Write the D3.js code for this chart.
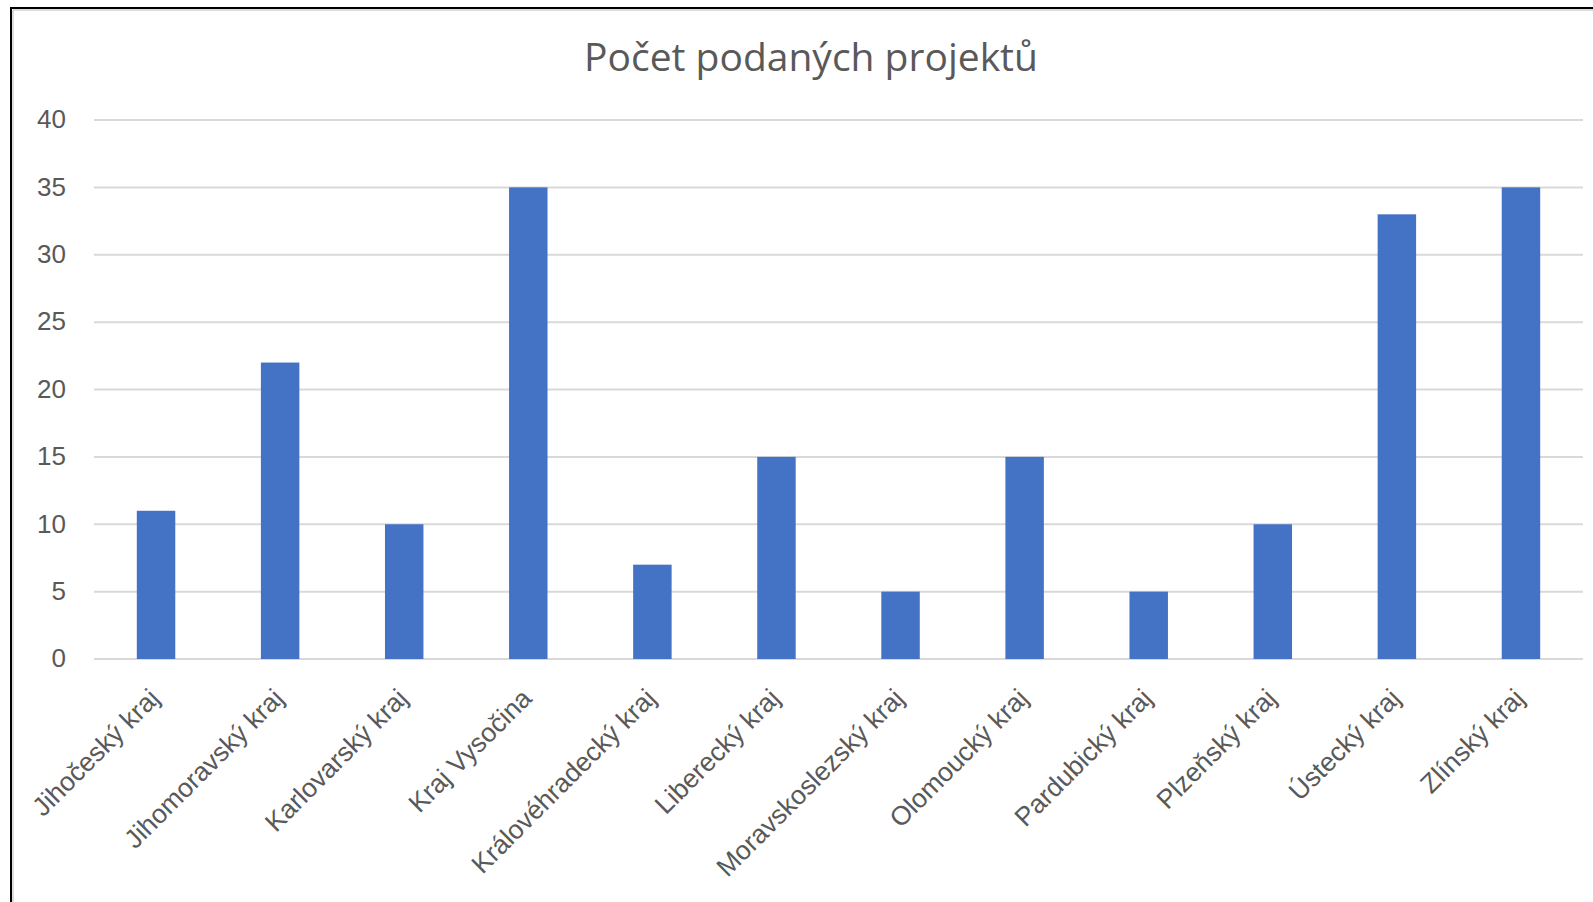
<!DOCTYPE html>
<html>
<head>
<meta charset="utf-8">
<script src="https://cdn.jsdelivr.net/npm/d3@7"></script>
<style>
  body { margin: 0; background: #fff; }
  svg { display: block; }
</style>
</head>
<body>
<svg id="chart"></svg>
<script>
const regions = [
  "Jihočeský kraj", "Jihomoravský kraj", "Karlovarský kraj", "Kraj Vysočina",
  "Královéhradecký kraj", "Liberecký kraj", "Moravskoslezský kraj", "Olomoucký kraj",
  "Pardubický kraj", "Plzeňský kraj", "Ústecký kraj", "Zlínský kraj"
];
const projects = [11, 22, 10, 35, 7, 15, 5, 15, 5, 10, 33, 35];
const yTicks = [0, 5, 10, 15, 20, 25, 30, 35, 40];
const chartTitle = "Počet podaných projektů";

const w = 1593;
const h = 902;
const m = { top: 120, right: 10, bottom: 243, left: 94 };

const svg = d3.select("#chart").attr("width", w).attr("height", h);

// frame of the chart (cropped on right and bottom)
svg.append("path")
  .attr("d", `M11,${h + 5}V8H${w + 5}`)
  .attr("fill", "none")
  .attr("stroke", "#000")
  .attr("stroke-width", 2);
svg.append("path")
  .attr("d", `M13,${h + 5}V10H${w + 5}`)
  .attr("fill", "none")
  .attr("stroke", "#bbb")
  .attr("stroke-width", 1);

const x = d3.scaleBand()
  .domain(regions)
  .range([m.left, w - m.right])
  .paddingInner(0.69)
  .paddingOuter(0.345);

const y = d3.scaleLinear()
  .domain([0, 40])
  .range([h - m.bottom, m.top]);

// gridlines
svg.append("g")
  .selectAll("line")
  .data(yTicks)
  .enter()
  .append("line")
  .attr("x1", m.left)
  .attr("x2", w - m.right)
  .attr("y1", (d) => y(d))
  .attr("y2", (d) => y(d))
  .attr("stroke", "#d9d9d9")
  .attr("stroke-width", 2);

// y axis labels
const yAxis = svg.append("g")
  .attr("transform", `translate(${m.left - 28},0)`)
  .call(d3.axisLeft(y).tickValues(yTicks).tickSize(0).tickPadding(0));
yAxis.select(".domain").remove();
yAxis.selectAll("text")
  .attr("fill", "#595959")
  .attr("dy", "0.3em")
  .style("font-family", "'Liberation Sans', Arial, sans-serif")
  .style("font-size", "26px");

// bars
svg.append("g")
  .selectAll("rect")
  .data(projects)
  .enter()
  .append("rect")
  .attr("x", (d, i) => x(regions[i]))
  .attr("y", (d) => y(d))
  .attr("width", x.bandwidth())
  .attr("height", (d) => y(0) - y(d))
  .attr("fill", "#4472c4");

// x axis labels
const xAxis = svg.append("g")
  .attr("transform", `translate(0,${h - m.bottom})`)
  .call(d3.axisBottom(x).tickSize(0).tickPadding(0));
xAxis.select(".domain").remove();
xAxis.selectAll("text")
  .attr("fill", "#595959")
  .attr("text-anchor", "end")
  .attr("dy", null)
  .attr("y", 0)
  .attr("transform", "translate(5,41) rotate(-45)")
  .style("font-family", "'Liberation Sans', Arial, sans-serif")
  .style("font-size", "26.5px");

// title
svg.append("text")
  .attr("x", 811)
  .attr("y", 71)
  .attr("text-anchor", "middle")
  .attr("fill", "#595959")
  .style("font-family", "'Open Sans', sans-serif")
  .style("font-size", "39px")
  .text(chartTitle);
</script>
</body>
</html>
